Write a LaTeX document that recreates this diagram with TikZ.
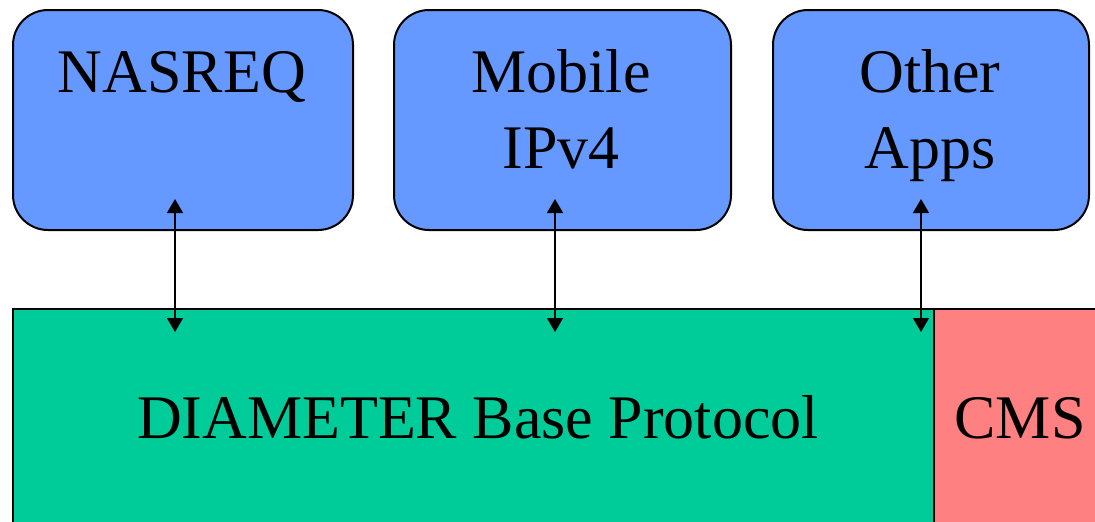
\documentclass[tikz,border=0pt]{standalone}
\usepackage{fontspec}
\setmainfont{Liberation Serif}
\usetikzlibrary{arrows.meta}
\definecolor{appblue}{HTML}{6699FF}
\definecolor{basegreen}{HTML}{00CC99}
\definecolor{cmsred}{HTML}{FF8080}
\begin{document}
\begin{tikzpicture}[x=1pt,y=-1pt,
  appbox/.style={draw=black, line width=2pt, fill=appblue, rounded corners=35pt, inner sep=0pt, anchor=north west},
  layerbox/.style={draw=black, line width=2pt, inner sep=0pt, anchor=north west},
  lbl/.style={font=\fontsize{62}{76}\selectfont, inner sep=0pt, anchor=base},
  conn/.style={line width=1.5pt, {Triangle[length=14pt,width=16pt]}-{Triangle[length=14pt,width=16pt]}}
]
\useasboundingbox (0,0) rectangle (1095,522);
\fill[white] (0,0) rectangle (1095,522);
\clip (0,0) rectangle (1095,522);

\node[appbox, minimum width=340pt, minimum height=220pt] (nasreq) at (12,9) {};
\node[appbox, minimum width=337pt, minimum height=220pt] (mobile) at (393,9) {};
\node[appbox, minimum width=316pt, minimum height=220pt] (other) at (772,9) {};

\node[layerbox, fill=basegreen, minimum width=921pt, minimum height=260pt] (base) at (12,308) {};
\node[layerbox, fill=cmsred, minimum width=200pt, minimum height=260pt] (cms) at (933,308) {};

\node[lbl] (tnasreq) at (182,92) {NASREQ};
\node[lbl] (tmobile) at (561,92) {Mobile};
\node[lbl] (tipv4) at (561,168) {IPv4};
\node[lbl] (tother) at (930,92) {Other};
\node[lbl] (tapps) at (930,168) {Apps};
\node[lbl] (tbase) at (478,438) {DIAMETER Base Protocol};
\node[lbl] (tcms) at (1020,438) {CMS};

\coordinate (a1t) at (175,199);
\coordinate (a1b) at (175,332);
\coordinate (a2t) at (555,199);
\coordinate (a2b) at (555,332);
\coordinate (a3t) at (921,199);
\coordinate (a3b) at (921,332);
\draw[conn] (a1t) -- (a1b);
\draw[conn] (a2t) -- (a2b);
\draw[conn] (a3t) -- (a3b);
\end{tikzpicture}
\end{document}
